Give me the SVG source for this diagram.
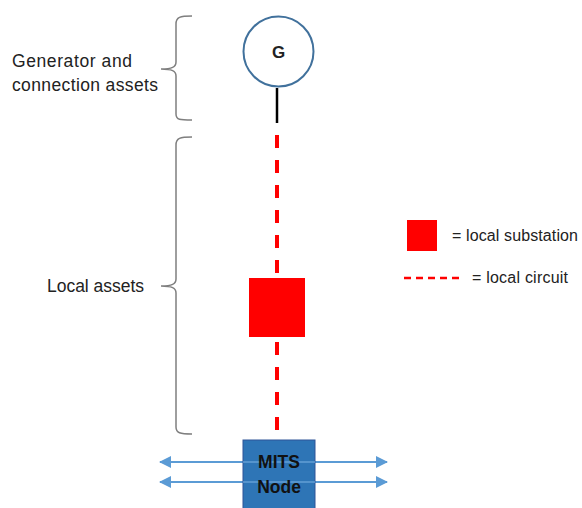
<svg xmlns="http://www.w3.org/2000/svg" width="582" height="508" viewBox="0 0 582 508">
<style>
.lbl{font-family:"Liberation Sans",Arial,sans-serif;font-size:17.5px;fill:#222}
.leg{font-family:"Liberation Sans",Arial,sans-serif;font-size:16px;fill:#222}
.brace{fill:none;stroke:#7f7f7f;stroke-width:1.5}
.circuit{stroke:#ff0000;stroke-width:4;stroke-dasharray:13 12;fill:none}
.bus{stroke:#5b9bd5;stroke-width:2;fill:none}
</style>
<defs>
<marker id="ah" markerWidth="12" markerHeight="12" refX="11" refY="6" orient="auto-start-reverse" markerUnits="userSpaceOnUse">
<path d="M0,0 L12,6 L0,12 Z" fill="#5b9bd5"/>
</marker>
</defs>
<rect width="582" height="508" fill="#fff"/>
<g id="labels">
<text class="lbl" x="12" y="67" textLength="120">Generator and</text>
<text class="lbl" x="12" y="91" textLength="146">connection assets</text>
<text class="lbl" x="47" y="292" textLength="97">Local assets</text>
</g>
<g id="braces">
<path class="brace" d="M192,16 C180,16 176,17 176,24 L176,62 C176,67 172,69 161,69 C172,69 176,71 176,76 L176,114 C176,120 180,120 192,120"/>
<path class="brace" d="M192,137 C180,137 176,138 176,145 L176,279 C176,284 172,286 161,286 C172,286 176,288 176,293 L176,427 C176,433 180,434 192,434"/>
</g>
<g id="connectors">
<line x1="277" y1="88" x2="277" y2="123" stroke="#000" stroke-width="2.5"/>
<line class="circuit" x1="277" y1="135" x2="277" y2="278"/>
<line class="circuit" x1="277" y1="337" x2="277" y2="440" style="stroke-dashoffset:-5"/>
<line class="bus" x1="160" y1="462" x2="387" y2="462" marker-start="url(#ah)" marker-end="url(#ah)"/>
<line class="bus" x1="160" y1="482" x2="387" y2="482" marker-start="url(#ah)" marker-end="url(#ah)"/>
</g>
<g id="generator">
<circle cx="278.5" cy="51.5" r="35" fill="#fff" stroke="#41719c" stroke-width="2"/>
<text x="278.5" y="58" text-anchor="middle" font-family="Liberation Sans,Arial,sans-serif" font-size="17" font-weight="bold" fill="#222">G</text>
</g>
<g id="substation">
<rect x="249" y="278" width="56" height="59" fill="#ff0000"/>
</g>
<g id="mits-node">
<rect x="243" y="440" width="72" height="70" fill="#2e75b6" stroke="#2f5597" stroke-width="1"/>
<line class="bus" x1="243" y1="462" x2="315" y2="462" style="stroke:#6fa8dc;opacity:.6"/>
<line class="bus" x1="243" y1="482" x2="315" y2="482" style="stroke:#6fa8dc;opacity:.6"/>
<text x="279" y="468" text-anchor="middle" font-family="Liberation Sans,Arial,sans-serif" font-size="17.5" font-weight="bold" fill="#111">MITS</text>
<text x="279" y="493" text-anchor="middle" font-family="Liberation Sans,Arial,sans-serif" font-size="17.5" font-weight="bold" fill="#111">Node</text>
</g>
<g id="legend">
<rect x="407" y="220" width="30" height="31" fill="#ff0000"/>
<text class="leg" x="452" y="241" textLength="126">= local substation</text>
<line x1="404" y1="278" x2="462" y2="278" stroke="#ff0000" stroke-width="2.5" stroke-dasharray="7 5"/>
<text class="leg" x="472" y="283" textLength="96">= local circuit</text>
</g>
</svg>
